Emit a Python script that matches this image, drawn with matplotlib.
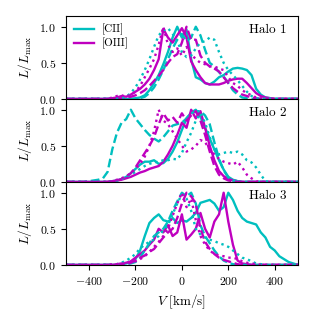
import numpy as np
import matplotlib
matplotlib.use('Agg')
import matplotlib.pyplot as plt

plt.rcParams.update({'font.family': 'serif', 'font.serif': ['cmr10'],
                     'mathtext.fontset': 'cm', 'axes.formatter.use_mathtext': True,
                     'font.size': 9, 'axes.unicode_minus': True})

# velocity grid [km/s]
V = np.arange(-500, 501, 20)

# ---- Halo 1 ----
h1_cii_solid = [0, 0, 0, 0, 0, 0, 0, 0, 0, 0,
                0, 0, 0, 0, 0, 0.01, 0.02, 0.05, 0.12, 0.22,
                0.33, 0.48, 0.65, 0.85, 1.0, 0.85, 0.96, 0.55, 0.3, 0.27,
                0.22, 0.2, 0.24, 0.3, 0.33, 0.38, 0.42, 0.43, 0.42, 0.4,
                0.33, 0.14, 0.06, 0.02, 0.01, 0, 0, 0, 0, 0, 0]
h1_cii_dash = [0, 0, 0, 0, 0, 0, 0, 0, 0, 0,
               0, 0, 0, 0, 0, 0, 0.01, 0.03, 0.08, 0.16,
               0.27, 0.4, 0.55, 0.7, 0.82, 0.9, 0.8, 0.85, 1.0, 0.88,
               0.68, 0.5, 0.45, 0.37, 0.31, 0.22, 0.12, 0.06, 0.02, 0.01,
               0, 0, 0, 0, 0, 0, 0, 0, 0, 0, 0]
h1_cii_dot = [0, 0, 0, 0, 0, 0, 0, 0, 0, 0,
              0, 0, 0.01, 0.03, 0.08, 0.16, 0.27, 0.4, 0.55, 0.72,
              0.88, 0.95, 0.98, 0.9, 0.8, 0.65, 0.58, 0.6, 0.7, 0.78,
              0.8, 0.85, 0.82, 0.65, 0.5, 0.4, 0.33, 0.26, 0.18, 0.1,
              0.04, 0.01, 0, 0, 0, 0, 0, 0, 0, 0, 0]
h1_oiii_solid = [0, 0, 0, 0, 0, 0, 0, 0, 0, 0,
                 0.01, 0.02, 0.04, 0.03, 0.06, 0.1, 0.14, 0.2, 0.28, 0.4,
                 0.55, 0.97, 0.85, 0.78, 0.88, 0.98, 0.85, 0.52, 0.4, 0.3,
                 0.22, 0.2, 0.2, 0.2, 0.22, 0.25, 0.27, 0.28, 0.28, 0.22,
                 0.15, 0.08, 0.04, 0.02, 0.01, 0, 0, 0, 0, 0, 0]
h1_oiii_dash = [0, 0, 0, 0, 0, 0, 0, 0, 0, 0,
                0, 0, 0.01, 0.02, 0.03, 0.05, 0.08, 0.12, 0.18, 0.25,
                0.32, 0.4, 0.5, 0.58, 0.62, 0.78, 1.0, 0.82, 0.82, 0.6,
                0.5, 0.45, 0.42, 0.38, 0.3, 0.22, 0.15, 0.1, 0.06, 0.04,
                0.02, 0.01, 0, 0, 0, 0, 0, 0, 0, 0, 0]
h1_oiii_dot = [0, 0, 0, 0, 0, 0, 0, 0, 0, 0,
               0.02, 0.04, 0.05, 0.03, 0.06, 0.1, 0.18, 0.3, 0.42, 0.55,
               0.75, 1.0, 0.75, 0.65, 0.7, 0.6, 0.72, 0.62, 0.55, 0.5,
               0.48, 0.45, 0.45, 0.42, 0.4, 0.3, 0.22, 0.18, 0.12, 0.08,
               0.05, 0.02, 0.01, 0, 0, 0, 0, 0, 0, 0, 0]

# ---- Halo 2 ----
h2_cii_solid = [0, 0, 0, 0, 0, 0, 0, 0, 0, 0,
                0.01, 0.02, 0.04, 0.07, 0.12, 0.18, 0.24, 0.28, 0.28, 0.3,
                0.25, 0.26, 0.32, 0.42, 0.55, 0.72, 0.88, 0.96, 1.0, 0.9,
                0.75, 0.6, 0.45, 0.3, 0.17, 0.07, 0.03, 0.01, 0, 0,
                0, 0, 0, 0, 0, 0, 0, 0, 0, 0, 0]
h2_cii_dash = [0, 0, 0, 0, 0, 0.01, 0.02, 0.03, 0.05, 0.14,
               0.45, 0.68, 0.82, 0.87, 1.0, 0.88, 0.8, 0.72, 0.65, 0.6,
               0.56, 0.62, 0.7, 0.78, 0.8, 0.82, 0.88, 0.95, 0.98, 0.98,
               0.92, 0.8, 0.55, 0.32, 0.16, 0.06, 0.02, 0.01, 0, 0,
               0, 0, 0, 0, 0, 0, 0, 0, 0, 0, 0]
h2_cii_dot = [0, 0, 0, 0, 0, 0, 0, 0, 0, 0,
              0.01, 0.02, 0.04, 0.07, 0.1, 0.14, 0.18, 0.22, 0.25, 0.27,
              0.28, 0.3, 0.3, 0.32, 0.31, 0.4, 0.55, 0.68, 0.85, 0.95,
              0.82, 0.62, 0.45, 0.38, 0.4, 0.42, 0.4, 0.42, 0.38, 0.3,
              0.27, 0.2, 0.1, 0.01, 0, 0, 0, 0, 0, 0, 0]
h2_oiii_solid = [0, 0, 0, 0, 0, 0, 0, 0, 0, 0,
                 0.01, 0.02, 0.03, 0.05, 0.07, 0.1, 0.13, 0.15, 0.18, 0.2,
                 0.22, 0.28, 0.38, 0.5, 0.65, 0.82, 0.75, 1.0, 0.88, 0.98,
                 0.75, 0.5, 0.3, 0.15, 0.08, 0.04, 0.02, 0.01, 0, 0,
                 0, 0, 0, 0, 0, 0, 0, 0, 0, 0, 0]
h2_oiii_dash = [0, 0, 0, 0, 0, 0, 0, 0, 0, 0,
                0.01, 0.02, 0.04, 0.07, 0.12, 0.2, 0.3, 0.4, 0.5, 0.62,
                0.8, 0.95, 0.85, 0.9, 0.82, 0.95, 0.85, 0.92, 0.98, 0.85,
                0.65, 0.42, 0.22, 0.1, 0.05, 0.02, 0.01, 0, 0, 0,
                0, 0, 0, 0, 0, 0, 0, 0, 0, 0, 0]
h2_oiii_dot = [0, 0, 0, 0, 0, 0, 0, 0, 0, 0,
               0.01, 0.03, 0.05, 0.08, 0.12, 0.18, 0.25, 0.35, 0.5, 0.7,
               1.0, 0.85, 0.8, 0.7, 0.6, 0.5, 0.42, 0.45, 0.5, 0.58,
               0.55, 0.45, 0.38, 0.32, 0.28, 0.26, 0.24, 0.28, 0.2, 0.1,
               0.05, 0.01, 0, 0, 0, 0, 0, 0, 0, 0, 0]

# ---- Halo 3 ----
h3_cii_solid = [0, 0, 0, 0, 0, 0, 0, 0, 0, 0,
                0, 0, 0.01, 0.02, 0.04, 0.08, 0.2, 0.4, 0.58, 0.65,
                0.7, 0.62, 0.6, 0.65, 0.58, 0.62, 0.6, 0.65, 0.72, 0.86,
                0.88, 0.9, 0.85, 0.75, 0.8, 1.0, 0.9, 0.75, 0.65, 0.6,
                0.58, 0.56, 0.45, 0.38, 0.25, 0.2, 0.12, 0.08, 0.04, 0.02, 0]
h3_cii_dash = [0, 0, 0, 0, 0, 0, 0, 0, 0, 0,
               0, 0, 0, 0.01, 0.02, 0.04, 0.1, 0.2, 0.3, 0.4,
               0.45, 0.5, 0.6, 0.75, 0.88, 1.0, 0.95, 1.0, 0.85, 0.55,
               0.4, 0.3, 0.2, 0.12, 0.06, 0.03, 0.01, 0, 0, 0,
               0, 0, 0, 0, 0, 0, 0, 0, 0, 0, 0]
h3_cii_dot = [0, 0, 0, 0, 0, 0, 0, 0, 0, 0,
              0, 0.01, 0.03, 0.06, 0.1, 0.15, 0.23, 0.28, 0.32, 0.35,
              0.4, 0.48, 0.55, 0.7, 0.85, 0.98, 0.92, 0.75, 0.5, 0.42,
              0.38, 0.35, 0.33, 0.3, 0.28, 0.25, 0.2, 0.15, 0.1, 0.08,
              0.05, 0.02, 0.01, 0, 0, 0, 0, 0, 0, 0, 0]
h3_oiii_solid = [0, 0, 0, 0, 0, 0, 0, 0, 0, 0,
                 0, 0.01, 0.02, 0.03, 0.05, 0.1, 0.15, 0.2, 0.28, 0.35,
                 0.5, 0.45, 0.55, 0.4, 0.45, 0.7, 0.35, 0.42, 0.5, 0.72,
                 0.5, 0.38, 0.6, 0.7, 1.0, 0.6, 0.28, 0.06, 0.02, 0.01,
                 0, 0, 0, 0, 0, 0, 0, 0, 0, 0, 0]
h3_oiii_dash = [0, 0, 0, 0, 0, 0, 0, 0, 0, 0,
                0, 0, 0.01, 0.02, 0.03, 0.06, 0.1, 0.13, 0.18, 0.22,
                0.3, 0.38, 0.45, 0.5, 0.65, 0.85, 1.0, 0.95, 0.85, 0.5,
                0.32, 0.22, 0.15, 0.1, 0.07, 0.05, 0.03, 0.01, 0, 0,
                0, 0, 0, 0, 0, 0, 0, 0, 0, 0, 0]
h3_oiii_dot = [0, 0, 0, 0, 0, 0, 0, 0, 0, 0,
               0.01, 0.01, 0.02, 0.02, 0.03, 0.05, 0.08, 0.12, 0.18, 0.25,
               0.32, 0.4, 0.5, 0.68, 0.85, 1.0, 0.8, 0.92, 0.62, 0.4,
               0.28, 0.2, 0.15, 0.13, 0.12, 0.1, 0.1, 0.08, 0.05, 0.03,
               0.02, 0.01, 0, 0, 0, 0, 0, 0, 0, 0, 0]

halos = ['Halo 1', 'Halo 2', 'Halo 3']
cii = [[h1_cii_solid, h1_cii_dash, h1_cii_dot],
       [h2_cii_solid, h2_cii_dash, h2_cii_dot],
       [h3_cii_solid, h3_cii_dash, h3_cii_dot]]
oiii = [[h1_oiii_solid, h1_oiii_dash, h1_oiii_dot],
        [h2_oiii_solid, h2_oiii_dash, h2_oiii_dot],
        [h3_oiii_solid, h3_oiii_dash, h3_oiii_dot]]
styles = ['-', '--', ':']

fig, axes = plt.subplots(3, 1, figsize=(3.31, 3.12), dpi=100, sharex=True)
fig.subplots_adjust(left=0.199, right=0.9, top=0.949, bottom=0.151, hspace=0)

for i, ax in enumerate(axes):
    for j, ls in enumerate(styles):
        ax.plot(V, cii[i][j], color='c', ls=ls, lw=1.7,
                label='[CII]' if j == 0 else None)
        ax.plot(V, oiii[i][j], color='m', ls=ls, lw=1.7,
                label='[OIII]' if j == 0 else None)
    ax.set_xlim(-500, 500)
    ax.set_ylim(0, 1.15)
    ax.set_yticks([0, 0.5, 1.0])
    ax.set_ylabel(r'$L/L_{\rm max}$', fontsize=9.5)
    ax.text(0.95, 0.9, halos[i], transform=ax.transAxes, ha='right', va='top',
            fontsize=9.5)
    ax.tick_params(labelsize=8.5)

axes[0].legend(loc='upper left', frameon=False, fontsize=8, handlelength=1.8,
               borderaxespad=0.3, labelspacing=0.25, handletextpad=0.7)
axes[2].set_xticks([-400, -200, 0, 200, 400])
axes[2].set_xlabel(r'$V\ $[km/s]', fontsize=9.5)

fig.savefig('out.png', dpi=100)
